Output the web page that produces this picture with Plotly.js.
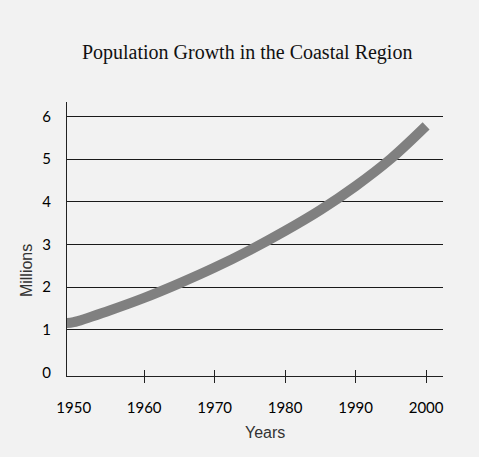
<!DOCTYPE html>
<html>
<head>
<meta charset="utf-8">
<script src="https://cdn.plot.ly/plotly-3.0.1.min.js"></script>
<style>html,body{margin:0;padding:0;background:#f2f2f2;}#chart{width:479px;height:457px;}</style>
</head>
<body>
<div id="chart"></div>
<script>
// Data (population in millions)
const years = [1949, 1950, 1955, 1960, 1965, 1970, 1975, 1980, 1985, 1990, 1995, 2000];
const population = [1.16, 1.18, 1.45, 1.75, 2.09, 2.46, 2.87, 3.32, 3.81, 4.37, 5.01, 5.78];
const xTickVals = [1950, 1960, 1970, 1980, 1990, 2000];
const xTickText = ['1950', '1960', '1970', '1980', '1990', '2000'];
const xMarkVals = [1960, 1970, 1980, 1990, 2000];
const yTickVals = [0, 1, 2, 3, 4, 5, 6];
const yTickText = ['0', '1', '2', '3', '4', '5', '6'];
const yGridVals = [1, 2, 3, 4, 5, 6];

const xRange = [1949.05, 2002.4];
const yRange = [-0.08, 6.34];
const tickFont = {family: 'Lato, sans-serif', size: 15, color: '#000'};

const traces = [
  {x: years, y: population, type: 'scatter', mode: 'lines',
   line: {color: '#808080', width: 10, shape: 'spline'}, hoverinfo: 'skip'},
  {x: [], y: [], type: 'scatter', xaxis: 'x2', yaxis: 'y'},
  {x: [], y: [], type: 'scatter', xaxis: 'x3', yaxis: 'y'},
  {x: [], y: [], type: 'scatter', xaxis: 'x', yaxis: 'y2'}
];

const layout = {
  width: 479, height: 457,
  paper_bgcolor: '#f2f2f2', plot_bgcolor: '#f2f2f2',
  margin: {l: 67, r: 36, t: 102, b: 81},
  showlegend: false,
  title: {text: 'Population Growth in the Coastal Region',
          font: {family: '"Liberation Serif", serif', size: 20, color: '#111'},
          xref: 'container', x: 0.516, xanchor: 'center',
          yref: 'container', y: 0.886, yanchor: 'middle'},
  xaxis: {range: xRange, tickmode: 'array', tickvals: xTickVals, ticktext: xTickText,
          ticks: '', showgrid: false, zeroline: false, showline: true,
          linecolor: '#222', linewidth: 1, tickfont: tickFont, ticklabelstandoff: 18},
  xaxis2: {overlaying: 'x', range: xRange, tickmode: 'array', tickvals: xMarkVals,
           ticks: 'outside', ticklen: 6, tickcolor: '#222', tickwidth: 1,
           showticklabels: false, showgrid: false, zeroline: false, showline: false},
  xaxis3: {overlaying: 'x', range: xRange, tickmode: 'array', tickvals: xMarkVals,
           ticks: 'inside', ticklen: 6, tickcolor: '#222', tickwidth: 1,
           showticklabels: false, showgrid: false, zeroline: false, showline: false},
  yaxis: {range: yRange, tickmode: 'array', tickvals: yTickVals, ticktext: yTickText,
          ticks: '', showgrid: false, zeroline: false, showline: true,
          linecolor: '#222', linewidth: 1, tickfont: tickFont, ticklabelstandoff: 12},
  yaxis2: {overlaying: 'y', range: yRange, tickmode: 'array', tickvals: yGridVals,
           ticks: '', showticklabels: false, showgrid: true, gridcolor: '#1a1a1a',
           gridwidth: 1, zeroline: false, showline: false},
  annotations: [
    {text: 'Millions', xref: 'paper', yref: 'paper', x: -0.109, y: 0.383,
     xanchor: 'center', yanchor: 'middle', textangle: -90, showarrow: false,
     font: {family: '"Liberation Sans", Arial, sans-serif', size: 16, color: '#333'}},
    {text: 'Years', xref: 'paper', yref: 'paper', x: 0.527, y: -0.208,
     xanchor: 'center', yanchor: 'middle', showarrow: false,
     font: {family: '"Liberation Sans", Arial, sans-serif', size: 16, color: '#333'}}
  ]
};

Plotly.newPlot('chart', traces, layout, {displayModeBar: false, staticPlot: true});
</script>
</body>
</html>
